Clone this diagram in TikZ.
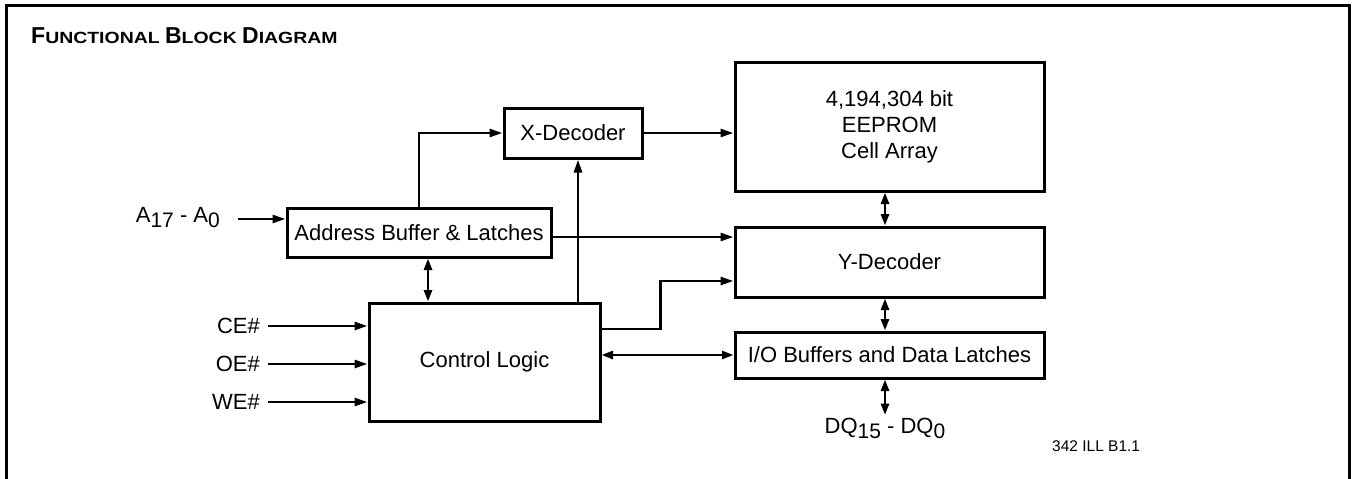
\documentclass[tikz,border=0pt]{standalone}
\usepackage{fontspec}
\setmainfont{Liberation Sans}
\usetikzlibrary{arrows.meta}
\newcommand{\titlebig}[1]{{\fontsize{23}{23}\selectfont #1}}
\newcommand{\titlesml}[1]{\scalebox{1.2}[1]{\fontsize{16.2}{16.2}\selectfont #1}}
\newcommand{\lowsub}[1]{\raisebox{-5pt}{\fontsize{21}{21}\selectfont #1}}
\begin{document}
\begin{tikzpicture}[x=1pt,y=-1pt,
  blk/.style={draw, line width=3pt, inner sep=0pt, font=\fontsize{22}{26}\selectfont, align=center},
  arr/.style={line width=2.7pt, -{Triangle[length=13pt,width=8pt]}},
  biarr/.style={line width=2.7pt, {Triangle[length=11.5pt,width=8pt]}-{Triangle[length=11.5pt,width=8pt]}},
  lbl/.style={inner ysep=0pt, inner xsep=0pt, font=\fontsize{22}{26}\selectfont}
]
\useasboundingbox (0,0) rectangle (1353,479);
% frame
\draw[line width=3pt] (6,479) -- (6,5) -- (1349.5,5) -- (1349.5,479);
% title
\node[inner sep=0pt, anchor=base west] (title) at (31,43)
  {\bfseries\titlebig{F}\titlesml{UNCTIONAL}\titlesml{ }\titlebig{B}\titlesml{LOCK}\titlesml{ }\titlebig{D}\titlesml{IAGRAM}};
% blocks
\node[blk, minimum width=264pt, minimum height=49pt] (addr) at (419,232.5) {Address Buffer \& Latches};
\node[blk, minimum width=138pt, minimum height=50pt] (xdec) at (573,133) {X-Decoder};
\node[blk, minimum width=309pt, minimum height=129pt] (cell) at (889.5,126.5) {4,194,304 bit\\EEPROM\\Cell Array};
\node[blk, minimum width=309pt, minimum height=70pt] (ydec) at (889.5,262) {Y-Decoder};
\node[blk, minimum width=309pt, minimum height=46pt] (io) at (889.5,355) {I/O Buffers and Data Latches};
\node[blk, minimum width=231pt, minimum height=118pt] (ctrl) at (484.5,362) {Control Logic};
% labels
\node[lbl, anchor=base east, inner xsep=18pt] (lblA) at (238,222) {A\lowsub{17} - A\lowsub{0}};
\node[lbl, anchor=base east, inner xsep=8pt] (ce) at (268,333) {CE\#};
\node[lbl, anchor=base east, inner xsep=8pt] (oe) at (268,371) {OE\#};
\node[lbl, anchor=base east, inner xsep=8pt] (we) at (268,409) {WE\#};
\node[lbl, anchor=north, inner ysep=3pt] (dq) at (885,415) {DQ\lowsub{15} - DQ\lowsub{0}};
\node[inner sep=0pt, anchor=base west, font=\fontsize{15.5}{16}\selectfont] (ill) at (1052,451) {342 ILL B1.1};
% helper coordinates
\coordinate (xin) at ([xshift=5pt]xdec.south);
\coordinate (ac) at ([xshift=9pt]addr.south);
\coordinate (cy) at ([yshift=33pt]ctrl.east);
\coordinate (yin) at ([yshift=-19pt]ydec.west);
\coordinate (ay) at ([yshift=-4.5pt]addr.east);
\coordinate (vx) at ([xshift=-4.5pt]cell.south);
% connectors
\draw[arr] ([yshift=3pt]lblA.base east) -- ([yshift=3pt]lblA.base east -| addr.west);
\draw[arr] ([yshift=7pt]ce.base east) -- ([yshift=7pt]ce.base east -| ctrl.west);
\draw[arr] ([yshift=7pt]oe.base east) -- ([yshift=7pt]oe.base east -| ctrl.west);
\draw[arr] ([yshift=7pt]we.base east) -- ([yshift=7pt]we.base east -| ctrl.west);
\draw[arr] (addr.north) |- (xdec.west);
\draw[arr] (xdec.east) -- (xdec.east -| cell.west);
\draw[arr] (xin |- ctrl.north) -- (xin);
\draw[biarr] (ac) -- (ac |- ctrl.north);
\draw[arr] (ay) -- (ay -| ydec.west);
\draw[arr] (cy) -| ([xshift=-73pt]yin) -- (yin);
\draw[biarr] (io.west -| ctrl.east) -- (io.west);
\draw[biarr] (vx) -- (vx |- ydec.north);
\draw[biarr] (vx |- ydec.south) -- (vx |- io.north);
\draw[biarr] (vx |- io.south) -- (dq.north);
\end{tikzpicture}
\end{document}
